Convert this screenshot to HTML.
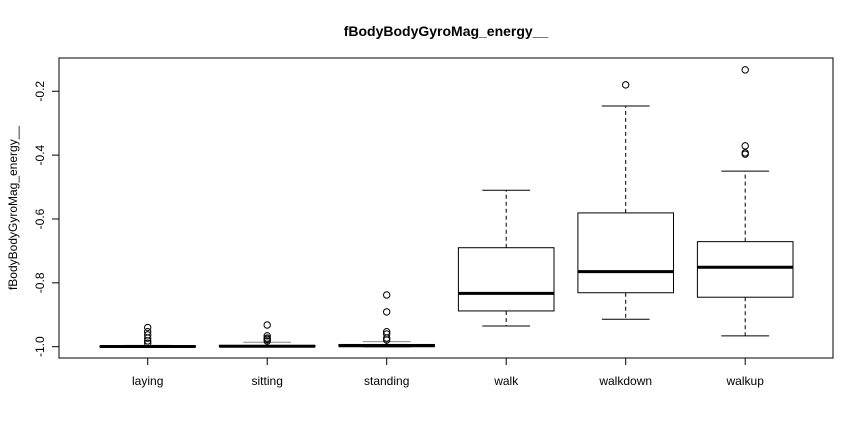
<!DOCTYPE html>
<html><head><meta charset="utf-8"><style>body{margin:0;background:#fff}svg{display:block;font-family:"Liberation Sans",Arial,sans-serif}</style></head>
<body>
<svg id="chart" width="864" height="432" viewBox="0 0 864 432">
<text x="446" y="36" text-anchor="middle" font-size="14" font-weight="bold">fBodyBodyGyroMag_energy__</text>
<text transform="translate(17,208) rotate(-90)" text-anchor="middle" font-size="12">fBodyBodyGyroMag_energy__</text>
<rect x="59" y="58" width="774" height="300" fill="none" stroke="#000" stroke-width="1"/>
<g id="marks"></g>
</svg>
<script>
const categories = ["laying","sitting","standing","walk","walkdown","walkup"];
const lowerWhisker = [-1.0, -1.0, -1.0, -0.935, -0.914, -0.966];
const q1 = [-1.0, -1.0, -0.999, -0.888, -0.831, -0.845];
const medians = [-0.9995, -0.9985, -0.997, -0.833, -0.765, -0.751];
const q3 = [-0.998, -0.996, -0.993, -0.690, -0.581, -0.671];
const upperWhisker = [-0.996, -0.986, -0.984, -0.510, -0.246, -0.450];
const outliers = [
  [-0.940,-0.953,-0.963,-0.973,-0.982,-0.989],
  [-0.932,-0.966,-0.973,-0.977,-0.982],
  [-0.838,-0.891,-0.953,-0.960,-0.973,-0.979],
  [],
  [-0.180],
  [-0.133,-0.371,-0.393,-0.397]
];
const yTicks = [-1.0,-0.8,-0.6,-0.4,-0.2];
const yTickLabels = ["-1.0","-0.8","-0.6","-0.4","-0.2"];

const NS="http://www.w3.org/2000/svg";
function y(v){return 346.7-(v+1)*319.3;}
function x(i){return 147.7+119.5*i;}
const svg=document.getElementById('chart');
const g=document.getElementById('marks');
function mk(tag,attrs,parent){const e=document.createElementNS(NS,tag);for(const k in attrs)e.setAttribute(k,attrs[k]);(parent||g).appendChild(e);return e;}

// y axis
mk('line',{x1:59,x2:59,y1:y(-1),y2:y(-0.2),stroke:'#000'});
yTicks.forEach((t,i)=>{
  const tk=mk('line',{x1:52,x2:59,y1:y(t),y2:y(t),stroke:'#000'});
  
  
  const tx=mk('text',{transform:`translate(44,${y(t)}) rotate(-90)`,'text-anchor':'middle','font-size':12});
  tx.textContent=yTickLabels[i];
  
  
});
// x axis
mk('line',{x1:x(0),x2:x(5),y1:358,y2:358,stroke:'#000'});
const hw=47.8;
categories.forEach((c,i)=>{
  const cx=x(i);
  const tk=mk('line',{x1:cx,x2:cx,y1:358,y2:365,stroke:'#000'});
  
  
  const tx=mk('text',{x:cx,y:385,'text-anchor':'middle','font-size':12});
  tx.textContent=c;
  
  
  const bg=mk('g',{});
  
  
  mk('line',{x1:cx,x2:cx,y1:y(q3[i]),y2:y(upperWhisker[i]),stroke:'#000','stroke-dasharray':'4,3'},bg);
  mk('line',{x1:cx,x2:cx,y1:y(q1[i]),y2:y(lowerWhisker[i]),stroke:'#000','stroke-dasharray':'4,3'},bg);
  mk('line',{x1:cx-hw/2,x2:cx+hw/2,y1:y(upperWhisker[i]),y2:y(upperWhisker[i]),stroke:i<3?'#888':'#000'},bg);
  mk('line',{x1:cx-hw/2,x2:cx+hw/2,y1:y(lowerWhisker[i]),y2:y(lowerWhisker[i]),stroke:'#000'},bg);
  mk('rect',{x:cx-hw,y:y(q3[i]),width:2*hw,height:Math.max(0.5,y(q1[i])-y(q3[i])),fill:'#fff',stroke:'#000'},bg);
  mk('line',{x1:cx-hw,x2:cx+hw,y1:y(medians[i]),y2:y(medians[i]),stroke:'#000','stroke-width':3},bg);
  outliers[i].forEach(v=>{
    const o=mk('circle',{cx:cx,cy:y(v),r:3.2,fill:'none',stroke:'#000'},bg);
    
    
  });
});
</script>
</body></html>
